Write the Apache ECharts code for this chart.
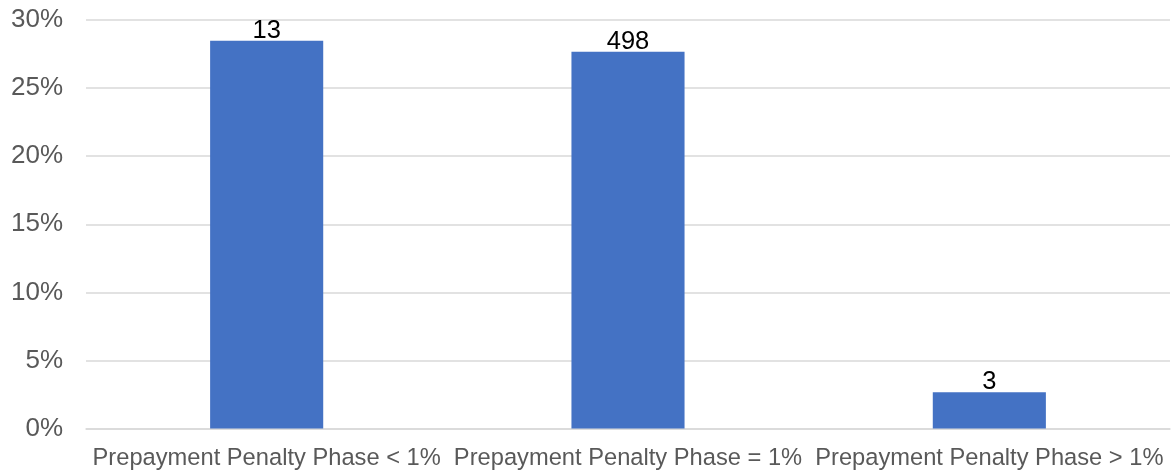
<!DOCTYPE html>
<html>
<head>
<meta charset="utf-8">
<script src="https://cdn.jsdelivr.net/npm/echarts@6/dist/echarts.min.js"></script>
<style>
  html, body { margin: 0; padding: 0; background: #fff; }
  #chart { width: 1173px; height: 472px; }
</style>
</head>
<body>
<div id="chart"></div>
<script>
// categories and values
const categories = ['Prepayment Penalty Phase < 1%', 'Prepayment Penalty Phase = 1%', 'Prepayment Penalty Phase > 1%'];
const shares = [28.48, 27.67, 2.66];   // percent
const counts = [13, 498, 3];            // labels shown above bars
const yTicks = [0, 5, 10, 15, 20, 25, 30];

const font = 'Liberation Sans, Arial, sans-serif';
let myChart = echarts.init(document.getElementById('chart'));

let option = {
  animation: false,
  grid: { left: 86, right: 3, top: 20, bottom: 43.5 },
  xAxis: {
    type: 'category',
    data: categories,
    axisTick: { show: false },
    axisLine: { lineStyle: { color: '#d9d9d9', width: 1.5 } },
    axisLabel: { interval: 0, color: '#595959', fontSize: 23.7, fontFamily: font, margin: 18 }
  },
  yAxis: {
    type: 'value',
    min: yTicks[0],
    max: yTicks[yTicks.length - 1],
    interval: 5,
    axisLine: { show: false },
    axisTick: { show: false },
    splitLine: { lineStyle: { color: '#d9d9d9', width: 1.5 } },
    axisLabel: { formatter: '{value}%', color: '#595959', fontSize: 26, fontFamily: font, margin: 23 }
  },
  series: [{
    type: 'bar',
    data: shares,
    barWidth: '31.3%',
    itemStyle: { color: '#4472c4' },
    label: {
      show: true,
      position: 'top',
      distance: -3,
      color: '#000',
      fontSize: 25.5,
      fontFamily: font,
      formatter: p => counts[p.dataIndex]
    }
  }]
};

myChart.setOption(option);
</script>
</body>
</html>
